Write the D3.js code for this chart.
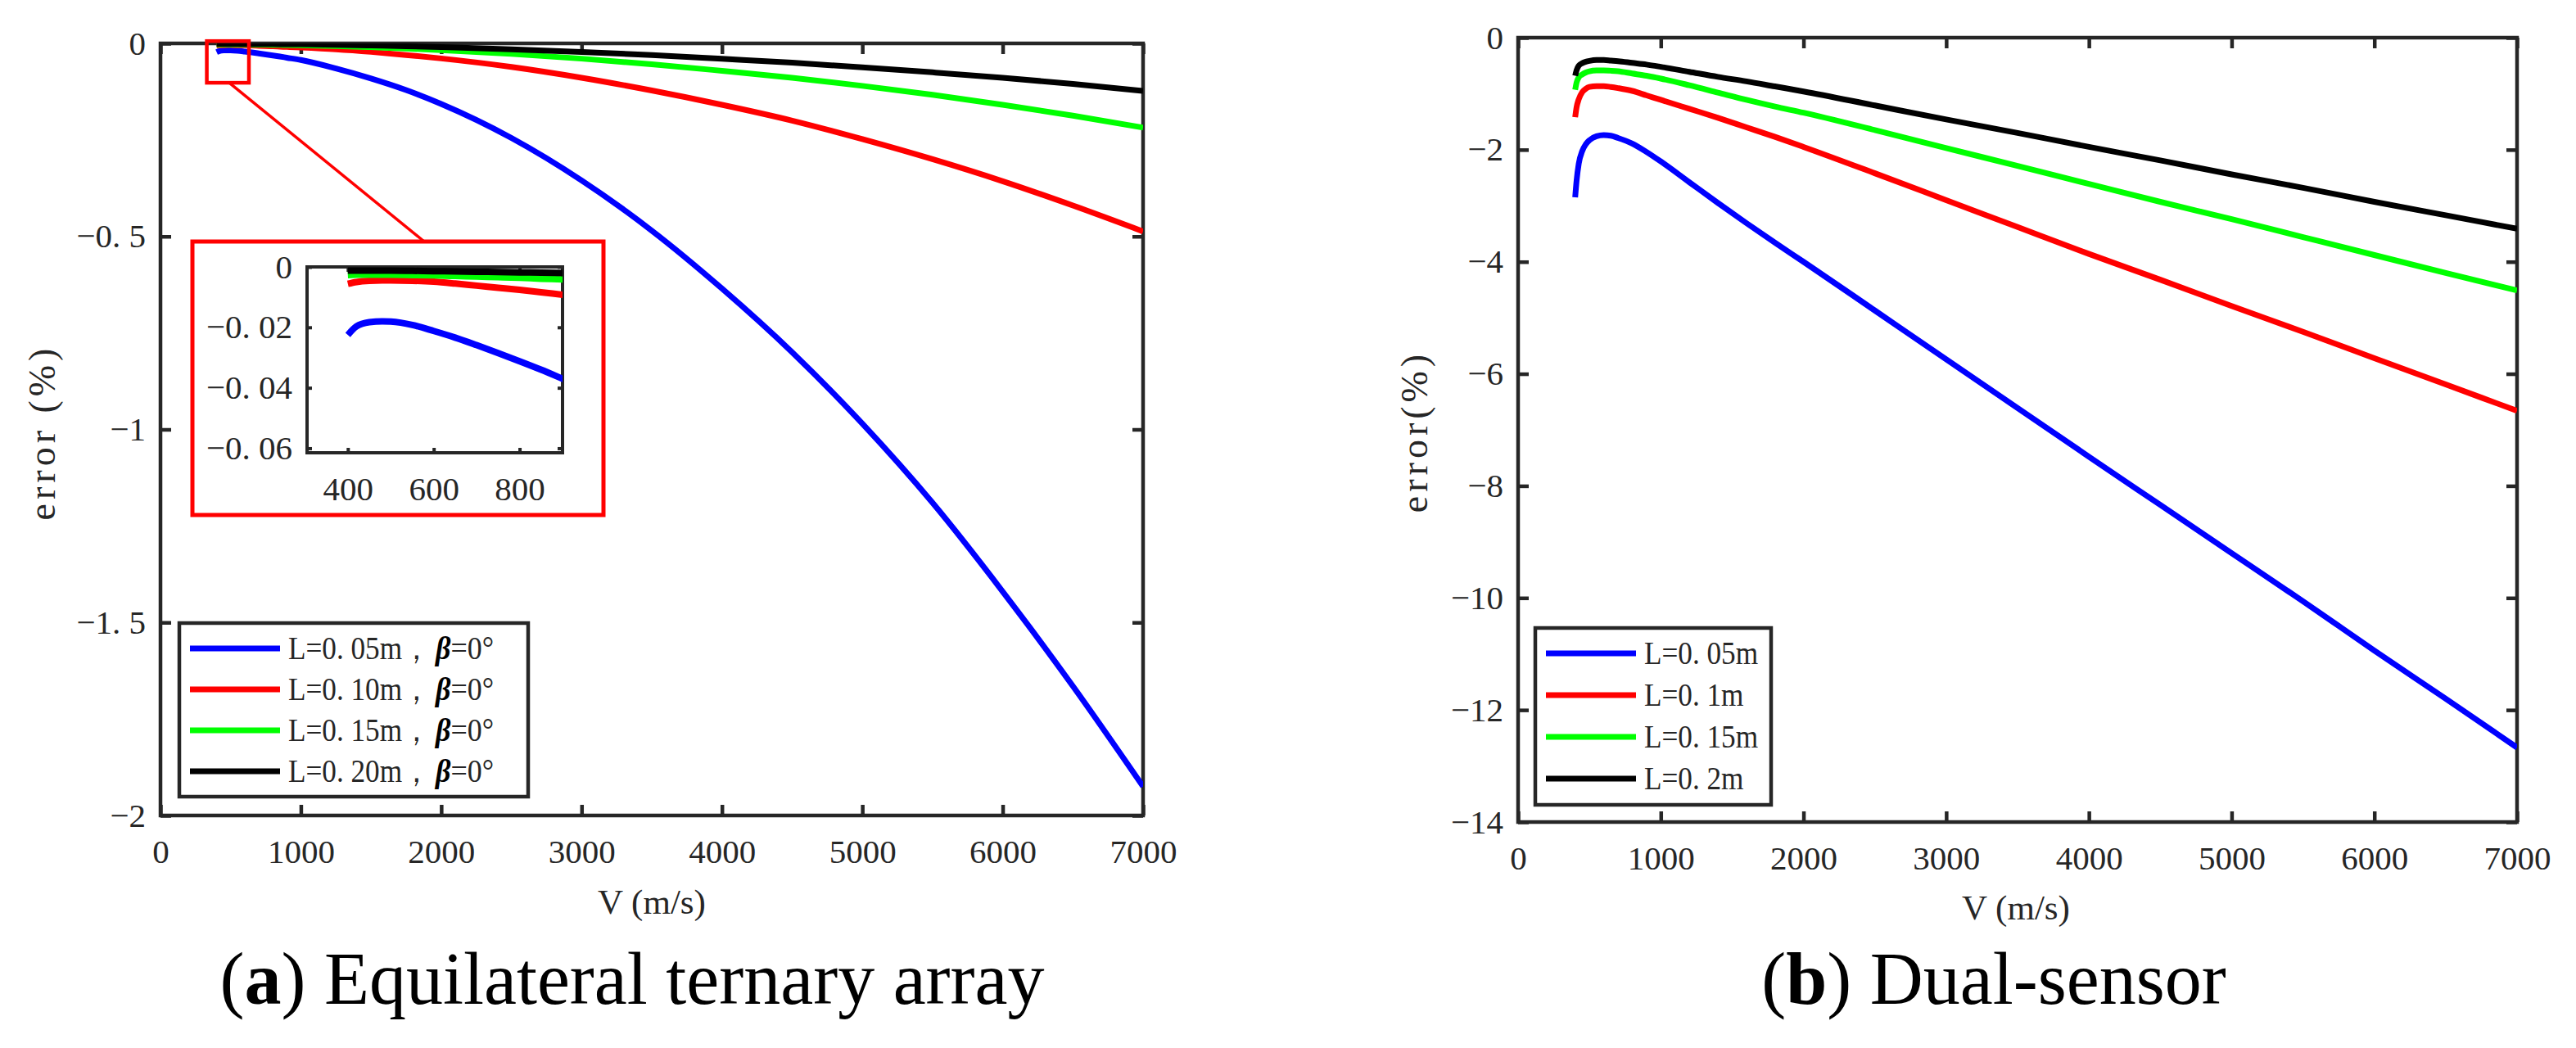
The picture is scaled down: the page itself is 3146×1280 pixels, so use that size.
<!DOCTYPE html>
<html>
<head>
<meta charset="utf-8">
<script src="https://cdn.jsdelivr.net/npm/d3@7"></script>
<style>
  body { margin: 0; background: #ffffff; }
  text { font-family: "Liberation Serif", "Times New Roman", serif; }
</style>
</head>
<body>
<svg id="fig" width="3146" height="1280"></svg>
<script>
// ---- (a) equilateral ternary array ----
var velA = [400, 420, 450, 480, 500, 550, 600, 650, 700, 750, 800, 850, 900, 1000, 1250, 1500, 1750, 2000, 2500, 3000, 3500, 4000, 4500, 5000, 5500, 6000, 6500, 7000];
var errA005 = [-0.0225, -0.0197, -0.0183, -0.0180, -0.0181, -0.0192, -0.0212, -0.0234, -0.0259, -0.0285, -0.0312, -0.0340, -0.0370, -0.043, -0.065, -0.091, -0.121, -0.157, -0.245, -0.355, -0.485, -0.635, -0.800, -0.985, -1.190, -1.420, -1.665, -1.925];
var errA010 = [-0.0056, -0.0050, -0.0046, -0.0045, -0.0045, -0.0046, -0.0049, -0.0055, -0.0062, -0.0069, -0.0076, -0.0084, -0.0092, -0.0108, -0.0155, -0.0220, -0.0300, -0.0390, -0.0610, -0.0890, -0.1220, -0.1590, -0.2000, -0.2480, -0.3000, -0.3570, -0.4200, -0.4870];
var errA015 = [-0.0027, -0.0026, -0.0026, -0.0026, -0.0026, -0.0027, -0.0028, -0.0030, -0.0032, -0.0034, -0.0036, -0.0039, -0.0041, -0.0048, -0.0068, -0.0098, -0.0132, -0.0175, -0.0272, -0.0395, -0.0540, -0.0710, -0.0890, -0.1100, -0.1330, -0.1590, -0.1870, -0.2180];
var errA020 = [-0.0012, -0.0012, -0.0012, -0.0012, -0.0012, -0.0013, -0.0014, -0.0015, -0.0016, -0.0017, -0.0018, -0.0019, -0.0020, -0.0023, -0.0035, -0.0053, -0.0073, -0.0098, -0.0153, -0.0222, -0.0303, -0.0400, -0.0500, -0.0620, -0.0750, -0.0890, -0.1050, -0.1230];
var legendA = ["L=0. 05m，", "L=0. 10m，", "L=0. 15m，", "L=0. 20m，"];

// ---- (b) dual-sensor ----
var velB = [400, 410, 425, 450, 475, 500, 550, 600, 650, 700, 800, 900, 1000, 1200, 1400, 1600, 1800, 2000, 2500, 3000, 3500, 4000, 4500, 5000, 5500, 6000, 6500, 7000];
var errB005 = [-2.85, -2.55, -2.25, -2.02, -1.90, -1.83, -1.76, -1.74, -1.75, -1.79, -1.89, -2.04, -2.21, -2.58, -2.95, -3.31, -3.66, -4.00, -4.87, -5.74, -6.61, -7.48, -8.34, -9.20, -10.06, -10.94, -11.80, -12.67];
var errB010 = [-1.42, -1.24, -1.10, -0.97, -0.91, -0.88, -0.865, -0.865, -0.88, -0.90, -0.95, -1.03, -1.11, -1.27, -1.43, -1.60, -1.77, -1.95, -2.42, -2.90, -3.38, -3.86, -4.32, -4.79, -5.25, -5.72, -6.19, -6.66];
var errB015 = [-0.93, -0.80, -0.71, -0.655, -0.62, -0.60, -0.585, -0.583, -0.59, -0.60, -0.64, -0.68, -0.73, -0.85, -0.98, -1.11, -1.23, -1.34, -1.65, -1.97, -2.29, -2.61, -2.93, -3.24, -3.56, -3.88, -4.20, -4.51];
var errB020 = [-0.68, -0.58, -0.50, -0.455, -0.43, -0.415, -0.40, -0.40, -0.41, -0.42, -0.45, -0.48, -0.52, -0.61, -0.70, -0.78, -0.87, -0.96, -1.21, -1.46, -1.70, -1.95, -2.19, -2.44, -2.68, -2.93, -3.17, -3.41];
var legendB = ["L=0. 05m", "L=0. 1m", "L=0. 15m", "L=0. 2m"];

var seriesColors = ["#0000ff", "#ff0000", "#00ff00", "#000000"];
var xTicks = [0, 1000, 2000, 3000, 4000, 5000, 6000, 7000];
var yTicksA = [0, -0.5, -1, -1.5, -2];
var yTicksB = [0, -2, -4, -6, -8, -10, -12, -14];
var insetXTicks = [400, 600, 800];
var insetYTicks = [0, -0.02, -0.04, -0.06];
// region of (a) that the inset magnifies
var zoomV = [330, 630];
var zoomErr = [0.006, -0.102];

var axisColor = "#262626";
var svg = d3.select("#fig");

function fmt(d) {
  if (d === 0) return "0";
  return String(d).replace("-", "\u2212").replace(".", ". ");
}

function makeAxes(g, x, y, o) {
  var len = o.tickLen;
  var bottom = g.append("g")
    .attr("transform", "translate(0," + y.range()[0] + ")")
    .call(d3.axisBottom(x).tickValues(o.xTicks).tickSizeInner(-len).tickSizeOuter(0).tickPadding(o.xPad).tickFormat(fmt));
  var top = g.append("g")
    .attr("transform", "translate(0," + y.range()[1] + ")")
    .call(d3.axisTop(x).tickValues(o.xTicks).tickSizeInner(-len).tickSizeOuter(0).tickFormat(""));
  var left = g.append("g")
    .attr("transform", "translate(" + x.range()[0] + ",0)")
    .call(d3.axisLeft(y).tickValues(o.yTicks).tickSizeInner(-len).tickSizeOuter(0).tickPadding(o.yPad).tickFormat(fmt));
  var right = g.append("g")
    .attr("transform", "translate(" + x.range()[1] + ",0)")
    .call(d3.axisRight(y).tickValues(o.yTicks).tickSizeInner(-len).tickSizeOuter(0).tickFormat(""));

  [bottom, top, left, right].forEach(function (a) {
    a.attr("color", axisColor).attr("font-family", null).attr("font-size", o.fontSize);
    a.select(".domain").remove();
    a.selectAll(".tick line").attr("stroke-width", o.stroke);
  });

  g.append("rect")
    .attr("x", x.range()[0])
    .attr("y", y.range()[1])
    .attr("width", x.range()[1] - x.range()[0])
    .attr("height", y.range()[0] - y.range()[1])
    .attr("fill", "none")
    .attr("stroke", axisColor)
    .attr("stroke-width", o.stroke);
}

function drawLines(g, x, y, vel, series, id, width) {
  g.append("clipPath").attr("id", id)
    .append("rect")
    .attr("x", x.range()[0])
    .attr("y", y.range()[1])
    .attr("width", x.range()[1] - x.range()[0])
    .attr("height", y.range()[0] - y.range()[1]);

  var line = d3.line()
    .x(function (d) { return x(d[0]); })
    .y(function (d) { return y(d[1]); })
    .curve(d3.curveMonotoneX);

  g.append("g")
    .attr("clip-path", "url(#" + id + ")")
    .selectAll("path")
    .data(series)
    .join("path")
    .attr("d", function (s) { return line(vel.map(function (v, i) { return [v, s[i]]; })); })
    .attr("fill", "none")
    .attr("stroke", function (s, i) { return seriesColors[i]; })
    .attr("stroke-width", width)
    .attr("stroke-linejoin", "round");
}

function drawLegend(g, box, labels, withBeta) {
  g.append("rect")
    .attr("x", box.x).attr("y", box.y)
    .attr("width", box.w).attr("height", box.h)
    .attr("fill", "#ffffff")
    .attr("stroke", axisColor)
    .attr("stroke-width", 4.5);

  var rows = g.selectAll("g.entry")
    .data(labels)
    .join("g")
    .attr("class", "entry")
    .attr("transform", function (d, i) { return "translate(" + box.x + "," + (box.y + box.first + i * box.step) + ")"; });

  rows.append("line")
    .attr("x1", 13).attr("x2", 123)
    .attr("stroke", function (d, i) { return seriesColors[i]; })
    .attr("stroke-width", 7);

  // narrow glyphs, like the original figure font
  rows.append("text")
    .attr("transform", "translate(133,13) scale(0.88,1)")
    .attr("font-size", 40)
    .attr("fill", axisColor)
    .text(function (d) { return d; });

  if (withBeta) {
    var t = rows.append("text")
      .attr("transform", "translate(313,13) scale(0.9,1)")
      .attr("font-size", 40)
      .attr("fill", axisColor);
    t.append("tspan").attr("font-style", "italic").attr("font-weight", "bold").attr("fill", "#000").text("\u03b2");
    t.append("tspan").text("=0\u00b0");
  }
}

// ---------- panel (a) ----------
var gA = svg.append("g");
var xA = d3.scaleLinear().domain([0, 7000]).range([196, 1396]);
var yA = d3.scaleLinear().domain([-2, 0]).range([996, 53]);
makeAxes(gA, xA, yA, { xTicks: xTicks, yTicks: yTicksA, tickLen: 13, stroke: 4.5, xPad: 29, yPad: 18, fontSize: 41 });
drawLines(gA, xA, yA, velA, [errA005, errA010, errA015, errA020], "clipA", 7);

gA.append("text")
  .attr("x", 796).attr("y", 1116)
  .attr("text-anchor", "middle")
  .attr("font-size", 43)
  .attr("fill", axisColor)
  .text("V (m/s)");
gA.append("text")
  .attr("transform", "translate(67,528) rotate(-90)")
  .attr("text-anchor", "middle")
  .attr("font-size", 46)
  .attr("letter-spacing", 5)
  .attr("fill", axisColor)
  .text("error (%)");

drawLegend(gA, { x: 219, y: 761, w: 426, h: 212, first: 31, step: 50 }, legendA, true);

// zoom marker + inset
var insetFrame = { left: 235, top: 295, right: 737, bottom: 629, joinX: 518 };
gA.append("rect")
  .attr("x", xA(zoomV[0])).attr("y", yA(zoomErr[0]))
  .attr("width", xA(zoomV[1]) - xA(zoomV[0]))
  .attr("height", yA(zoomErr[1]) - yA(zoomErr[0]))
  .attr("fill", "none").attr("stroke", "#ff0000").attr("stroke-width", 4.5);
gA.append("line")
  .attr("x1", xA((zoomV[0] + zoomV[1]) / 2 + 10)).attr("y1", yA(zoomErr[1]))
  .attr("x2", insetFrame.joinX).attr("y2", insetFrame.top)
  .attr("stroke", "#ff0000").attr("stroke-width", 3.5);
gA.append("rect")
  .attr("x", insetFrame.left).attr("y", insetFrame.top)
  .attr("width", insetFrame.right - insetFrame.left)
  .attr("height", insetFrame.bottom - insetFrame.top)
  .attr("fill", "#ffffff").attr("stroke", "#ff0000").attr("stroke-width", 5);

var gI = gA.append("g");
var xI = d3.scaleLinear().domain([305, 900]).range([375, 687]);
var yI = d3.scaleLinear().domain([-0.0615, 0]).range([553, 326]);
makeAxes(gI, xI, yI, { xTicks: insetXTicks, yTicks: insetYTicks, tickLen: 6, stroke: 4, xPad: 29, yPad: 18, fontSize: 41 });
drawLines(gI, xI, yI, velA, [errA005, errA010, errA015, errA020], "clipI", 8);

// ---------- panel (b) ----------
var gB = svg.append("g");
var xB = d3.scaleLinear().domain([0, 7000]).range([1854, 3074]);
var yB = d3.scaleLinear().domain([-14, 0]).range([1004, 46]);
makeAxes(gB, xB, yB, { xTicks: xTicks, yTicks: yTicksB, tickLen: 13, stroke: 4.5, xPad: 29, yPad: 18, fontSize: 41 });
drawLines(gB, xB, yB, velB, [errB005, errB010, errB015, errB020], "clipB", 7);

gB.append("text")
  .attr("x", 2462).attr("y", 1123)
  .attr("text-anchor", "middle")
  .attr("font-size", 43)
  .attr("fill", axisColor)
  .text("V (m/s)");
gB.append("text")
  .attr("transform", "translate(1743,527) rotate(-90)")
  .attr("text-anchor", "middle")
  .attr("font-size", 46)
  .attr("letter-spacing", 5)
  .attr("fill", axisColor)
  .text("error(%)");

drawLegend(gB, { x: 1875, y: 767, w: 288, h: 216, first: 31, step: 51 }, legendB, false);

// ---------- captions ----------
function caption(cx, letter, rest) {
  var t = svg.append("text")
    .attr("x", cx).attr("y", 1226)
    .attr("text-anchor", "middle")
    .attr("font-size", 90)
    .attr("fill", "#000000");
  t.append("tspan").text("(");
  t.append("tspan").attr("font-weight", "bold").text(letter);
  t.append("tspan").text(") " + rest);
}
caption(772, "a", "Equilateral ternary array");
caption(2435, "b", "Dual-sensor");
</script>
</body>
</html>
